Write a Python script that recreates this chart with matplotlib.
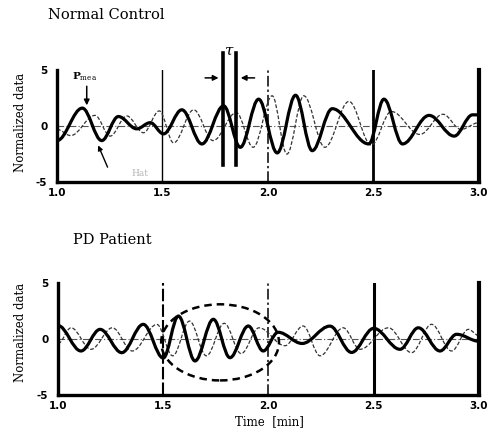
import matplotlib
matplotlib.use("Agg")
import matplotlib.pyplot as plt
from matplotlib.path import Path
from matplotlib.patches import PathPatch, Ellipse

# --- Data (turning points of each trace) ---
# Normal control: measured (thick) and estimated (dashed) signals
ncMeaT = [1.000, 1.120, 1.212, 1.291, 1.378, 1.442, 1.505, 1.592, 1.687, 1.790, 1.869, 1.956,
          2.044, 2.131, 2.210, 2.305, 2.478, 2.550, 2.638, 2.764, 2.883, 2.970, 3.000]
ncMeaV = [-1.3, 1.6, -1.3, 0.85, -0.25, 0.3, -0.7, 1.45, -1.6, 1.8, -1.9, 2.4,
          -2.4, 2.75, -2.2, 1.55, -1.6, 2.4, -1.6, 0.95, -0.9, 1.0, 1.0]
ncHatT = [1.000, 1.065, 1.180, 1.252, 1.331, 1.410, 1.485, 1.553, 1.648, 1.740, 1.850, 1.930,
          2.020, 2.090, 2.170, 2.270, 2.384, 2.490, 2.585, 2.720, 2.830, 2.915, 3.000]
ncHatV = [-0.3, -0.85, 0.95, -0.9, 0.9, -0.6, 1.35, -1.5, 1.45, -1.3, 1.2, -1.9,
          2.7, -2.5, 2.7, -1.9, 2.2, -1.7, 1.3, -0.75, 1.05, -0.3, 0.3]

# PD patient
pdMeaT = [1.000, 1.109, 1.200, 1.303, 1.405, 1.500, 1.572, 1.651, 1.738, 1.817, 1.904, 1.975,
          2.046, 2.160, 2.292, 2.395, 2.500, 2.625, 2.712, 2.815, 2.894, 3.000]
pdMeaV = [1.2, -1.07, 0.86, -1.22, 1.31, -1.7, 2.05, -1.96, 1.76, -1.67, 1.16, -1.07,
          0.6, -0.4, 1.15, -1.2, 0.95, -0.92, 1.0, -1.07, 0.42, -0.2]
pdHatT = [1.000, 1.062, 1.157, 1.258, 1.353, 1.470, 1.545, 1.625, 1.705, 1.790, 1.870, 1.955,
          2.078, 2.165, 2.245, 2.355, 2.435, 2.570, 2.680, 2.775, 2.870, 2.950, 3.000]
pdHatV = [-0.4, 1.0, -0.92, 1.0, -1.07, 1.3, -1.5, 1.6, -1.5, 1.4, -1.3, 1.0,
          -0.6, 1.16, -1.5, 1.0, -0.92, 1.0, -1.22, 1.31, -1.07, 0.86, 0.3]

xTicks = [1.0, 1.5, 2.0, 2.5, 3.0]
xTickLabels = ["1.0", "1.5", "2.0", "2.5", "3.0"]
yTicks = [5, 0, -5]
yTickLabels = ["5", "0", "-5"]

tauLines = [1.787, 1.850]

plt.rcParams["mathtext.fontset"] = "dejavuserif"


def smooth_trace(ts, vs):
    # cubic segments with flat tangents at every turning point
    verts = [(ts[0], vs[0])]
    codes = [Path.MOVETO]
    for i in range(len(ts) - 1):
        d = (ts[i + 1] - ts[i]) * 0.36
        verts += [(ts[i] + d, vs[i]), (ts[i + 1] - d, vs[i + 1]), (ts[i + 1], vs[i + 1])]
        codes += [Path.CURVE4] * 3
    return Path(verts, codes)


def setup_panel(ax, styles):
    ax.set_xlim(1.0, 3.0)
    ax.set_ylim(-5, 5)
    ax.spines["top"].set_visible(False)
    ax.spines["left"].set_linewidth(2.4)
    ax.spines["bottom"].set_linewidth(2.4)
    ax.spines["right"].set_linewidth(3.0)
    ax.set_xticks(xTicks)
    ax.set_xticklabels(xTickLabels, fontsize=7.5, fontweight="bold", family="DejaVu Sans")
    ax.set_yticks(yTicks)
    ax.set_yticklabels(yTickLabels, fontsize=7.5, fontweight="bold", family="DejaVu Sans")
    ax.tick_params(axis="x", length=0, pad=4)
    ax.tick_params(axis="y", length=0, pad=7)
    ax.axhline(0, color="#555555", lw=0.8, ls=(0, (6, 2, 1, 2)), zorder=1)
    for x, (lw, ls) in zip([1.5, 2.0, 2.5], styles):
        ax.axvline(x, color="black", lw=lw, ls=ls, zorder=1)


def draw_traces(ax, meaT, meaV, hatT, hatV):
    ax.add_patch(PathPatch(smooth_trace(hatT, hatV), fill=False, ec="#333333",
                           lw=0.9, ls=(0, (3, 1.5)), zorder=2))
    ax.add_patch(PathPatch(smooth_trace(meaT, meaV), fill=False, ec="black",
                           lw=2.3, zorder=3, capstyle="round", joinstyle="round"))


fig = plt.figure(figsize=(4.9, 4.34), dpi=100)
fig.patch.set_facecolor("white")

# --- Normal control ---
ax1 = fig.add_axes([0.1163, 0.5806, 0.861, 0.258])
setup_panel(ax1, [(1.0, "-"), (1.1, (0, (7, 2, 1.5, 2))), (2.0, "-")])
draw_traces(ax1, ncMeaT, ncMeaV, ncHatT, ncHatV)

# tau markers
for x in tauLines:
    ax1.plot([x, x], [-3.5, 6.5], color="black", lw=2.6, clip_on=False, zorder=4)
ax1.annotate("", xy=(tauLines[0] - 0.008, 4.3), xytext=(1.689, 4.3),
             arrowprops=dict(arrowstyle="-|>", color="black", lw=1.1, mutation_scale=8),
             annotation_clip=False)
ax1.annotate("", xy=(tauLines[1] + 0.008, 4.3), xytext=(1.950, 4.3),
             arrowprops=dict(arrowstyle="-|>", color="black", lw=1.1, mutation_scale=8),
             annotation_clip=False)
ax1.text(1.818, 6.7, "τ", fontsize=11, fontstyle="italic", family="DejaVu Serif",
         ha="center", va="center", clip_on=False)

# labels with arrows
ax1.text(1.133, 4.4, r"P$_{\mathrm{mea}}$", fontsize=7.5, family="DejaVu Serif",
         fontweight="bold", ha="center", va="center")
ax1.annotate("", xy=(1.141, 1.6), xytext=(1.141, 3.8),
             arrowprops=dict(arrowstyle="-|>", color="black", lw=1.1, mutation_scale=8))
ax1.text(1.394, -4.2, "Hat", fontsize=6.5, family="DejaVu Serif", color="#b5b5b5",
         ha="center", va="center")
ax1.annotate("", xy=(1.19, -1.5), xytext=(1.245, -3.9),
             arrowprops=dict(arrowstyle="-|>", color="black", lw=1.0, mutation_scale=7))

# --- PD patient ---
ax2 = fig.add_axes([0.1184, 0.0899, 0.859, 0.258])
setup_panel(ax2, [(1.5, (0, (6, 1.5))), (1.1, (0, (7, 2, 1.5, 2))), (2.2, "-")])
draw_traces(ax2, pdMeaT, pdMeaV, pdHatT, pdHatV)
ax2.add_patch(Ellipse((1.77, -0.3), 0.56, 6.8, fill=False, ec="black", lw=1.8,
                      ls=(0, (3, 2)), zorder=4))

# --- Titles and axis labels ---
fig.text(0.216, 0.965, "Normal Control", fontsize=10.5, family="DejaVu Serif",
         ha="center", va="center")
fig.text(0.229, 0.447, "PD Patient", fontsize=10.5, family="DejaVu Serif",
         ha="center", va="center")
for yc in [1 - 122 / 434, 1 - 332 / 434]:
    fig.text(0.041, yc, "Normalized data", fontsize=8.5, family="DejaVu Serif",
             rotation=90, ha="center", va="center")
fig.text(0.549, 1 - 422 / 434, "Time  [min]", fontsize=8.5, family="DejaVu Serif",
         ha="center", va="center")

fig.savefig("out.png", dpi=100, facecolor="white")
